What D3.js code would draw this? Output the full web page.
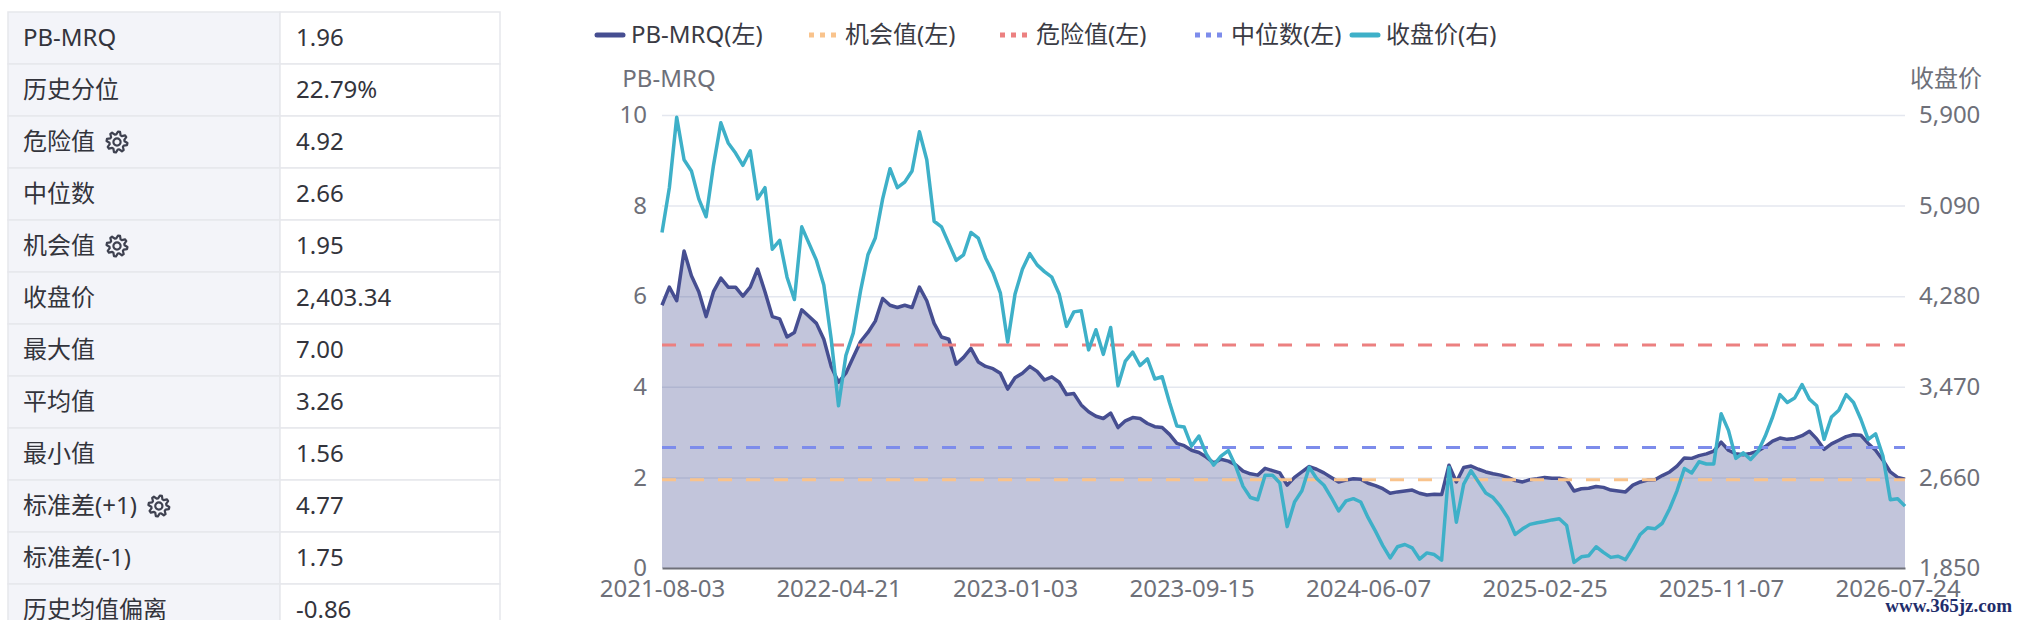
<!DOCTYPE html>
<html>
<head>
<meta charset="utf-8">
<script src="https://cdn.jsdelivr.net/npm/d3@7/dist/d3.min.js"></script>
<style>
  body { margin: 0; background: #fff; }
  svg text { font-family: "Noto Sans", "Noto Sans CJK SC", sans-serif; }
</style>
</head>
<body>
<svg id="chart" width="2020" height="620"></svg>
<script>
// stats table
var statNames = ["PB-MRQ", "历史分位", "危险值", "中位数", "机会值", "收盘价", "最大值", "平均值", "最小值", "标准差(+1)", "标准差(-1)", "历史均值偏离"];
var statValues = ["1.96", "22.79%", "4.92", "2.66", "1.95", "2,403.34", "7.00", "3.26", "1.56", "4.77", "1.75", "-0.86"];
var statHasGear = [false, false, true, false, true, false, false, false, false, true, false, false];

// x axis: one label every 24 points
var dateLabels = ["2021-08-03", "2022-04-21", "2023-01-03", "2023-09-15", "2024-06-07", "2025-02-25", "2025-11-07", "2026-07-24"];
var pointsPerLabel = 24;

var leftTicks = [0, 2, 4, 6, 8, 10];
var rightTicks = [1850, 2660, 3470, 4280, 5090, 5900];

var dangerValue = 4.92;
var medianValue = 2.66;
var chanceValue = 1.95;

var legendNames = ["PB-MRQ(左)", "机会值(左)", "危险值(左)", "中位数(左)", "收盘价(右)"];

// PB-MRQ (left axis)
var pbValues = [
  5.8, 6.2, 5.9, 7.0, 6.45, 6.1, 5.55, 6.1, 6.4, 6.2,
  6.2, 6.0, 6.2, 6.6, 6.1, 5.55, 5.5, 5.1, 5.2, 5.7,
  5.55, 5.4, 5.05, 4.45, 4.1, 4.3, 4.65, 5.0, 5.2, 5.45,
  5.95, 5.8, 5.75, 5.8, 5.75, 6.2, 5.9, 5.4, 5.1, 5.05,
  4.5, 4.65, 4.85, 4.55, 4.45, 4.4, 4.3, 3.95, 4.2, 4.3,
  4.45, 4.34, 4.15, 4.22, 4.1, 3.83, 3.85, 3.6, 3.45, 3.35,
  3.3, 3.42, 3.1, 3.25, 3.32, 3.3, 3.19, 3.12, 3.1, 2.95,
  2.75, 2.7, 2.6, 2.55, 2.45, 2.32, 2.4, 2.36, 2.28, 2.14,
  2.08, 2.05, 2.2, 2.15, 2.1, 1.83, 2.0, 2.12, 2.24, 2.18,
  2.1, 2.0, 1.9, 1.94, 1.97, 1.96, 1.87, 1.82, 1.75, 1.65,
  1.68, 1.7, 1.72, 1.65, 1.61, 1.63, 1.62, 2.27, 1.9, 2.22,
  2.25, 2.18, 2.12, 2.08, 2.05, 2.0, 1.93, 1.9, 1.95, 1.97,
  2.0, 1.98, 1.98, 1.95, 1.7, 1.75, 1.76, 1.8, 1.78, 1.72,
  1.7, 1.68, 1.83, 1.9, 1.94, 1.95, 2.04, 2.12, 2.25, 2.43,
  2.42, 2.48, 2.52, 2.58, 2.78, 2.6, 2.52, 2.5, 2.53, 2.58,
  2.68, 2.8, 2.87, 2.84, 2.86, 2.92, 3.02, 2.85, 2.62, 2.74,
  2.82, 2.9, 2.94, 2.93, 2.75, 2.6, 2.38, 2.12, 2.0, 1.96
];

// 收盘价 (right axis)
var closeValues = [
  4850, 5250, 5880, 5500, 5400, 5150, 4990, 5450, 5830, 5650,
  5560, 5450, 5580, 5150, 5250, 4700, 4780, 4450, 4250, 4900,
  4750, 4600, 4380, 3900, 3300, 3750, 3950, 4330, 4650, 4800,
  5150, 5420, 5250, 5300, 5400, 5750, 5500, 4950, 4900, 4750,
  4600, 4650, 4850, 4800, 4620, 4490, 4310, 3870, 4300, 4520,
  4660, 4560, 4500, 4450, 4300, 4010, 4140, 4150, 3800, 3980,
  3760, 4000, 3480, 3700, 3780, 3660, 3720, 3540, 3560, 3330,
  3120, 3110, 2940, 3030, 2870, 2770, 2850, 2900, 2760, 2580,
  2480, 2460, 2680, 2680, 2610, 2220, 2440, 2540, 2750, 2650,
  2590, 2480, 2360, 2450, 2470, 2440, 2300, 2180, 2050, 1940,
  2040, 2060, 2030, 1930, 1985, 1970, 1920, 2750, 2260, 2600,
  2720, 2620, 2520, 2480, 2400, 2300, 2150, 2200, 2240, 2255,
  2265, 2280, 2290, 2230, 1900, 1950, 1960, 2040, 1990, 1945,
  1955, 1925, 2030, 2150, 2210, 2200, 2250, 2380, 2540, 2740,
  2700, 2800, 2780, 2780, 3230, 3080, 2830, 2880, 2820, 2890,
  3030, 3200, 3400, 3330, 3370, 3490, 3360, 3300, 3000, 3200,
  3260, 3400, 3330, 3180, 3000, 3050, 2850, 2460, 2470, 2403.34
];

var colors = {
  pb: "#464e91",
  close: "#3eb0c8",
  danger: "#ec8080",
  median: "#7d8ceb",
  chance: "#f9c38c",
  axisText: "#6e7079",
  grid: "#e4e7ef"
};

var svg = d3.select("#chart");

// ---------- table ----------
var rowH = 52, tableTop = 12, tableLeft = 8, colSplit = 280, tableRight = 500;

function gearPath(cx, cy) {
  var p = d3.path();
  var n = 32, ro = 10.5, ri = 7.6;
  for (var k = 0; k <= n; k++) {
    var a = (k / n) * Math.PI * 2 + Math.PI / 32;
    var r = (k % 4 < 2) ? ro : ri;
    var px = cx + r * Math.cos(a), py = cy + r * Math.sin(a);
    if (k === 0) p.moveTo(px, py); else p.lineTo(px, py);
  }
  p.closePath();
  p.moveTo(cx + 3.6, cy);
  p.arc(cx, cy, 3.6, 0, Math.PI * 2);
  return p.toString();
}

var rows = svg.append("g").attr("class", "stats")
  .selectAll("g.row")
  .data(statNames)
  .enter().append("g")
  .attr("class", "row")
  .attr("transform", function (d, i) { return "translate(0," + (tableTop + i * rowH) + ")"; });

rows.append("rect")
  .attr("x", tableLeft).attr("y", 0)
  .attr("width", colSplit - tableLeft).attr("height", rowH)
  .attr("fill", "#f3f4f9").attr("stroke", "#e6e7ec").attr("stroke-width", 1.5);

rows.append("rect")
  .attr("x", colSplit).attr("y", 0)
  .attr("width", tableRight - colSplit).attr("height", rowH)
  .attr("fill", "#fff").attr("stroke", "#e6e7ec").attr("stroke-width", 1.5);

rows.append("text")
  .attr("class", "name")
  .attr("x", 23).attr("y", rowH / 2).attr("dy", "0.35em")
  .attr("font-size", 24).attr("fill", "#33343c")
  .text(function (d) { return d; });

rows.append("text")
  .attr("x", 296).attr("y", rowH / 2).attr("dy", "0.35em")
  .attr("font-size", 24).attr("fill", "#33343c")
  .text(function (d, i) { return statValues[i]; });

rows.each(function (d, i) {
  if (!statHasGear[i]) return;
  var row = d3.select(this);
  var w = row.select("text.name").node().getComputedTextLength();
  row.append("path")
    .attr("d", gearPath(23 + w + 22, rowH / 2))
    .attr("fill", "none").attr("stroke", "#3e4150")
    .attr("stroke-width", 2.2).attr("stroke-linejoin", "round");
});

// ---------- chart ----------
var plot = { left: 662, right: 1905, top: 115, bottom: 568 };

var x = d3.scaleLinear().domain([0, pbValues.length - 1]).range([plot.left, plot.right]);
var yL = d3.scaleLinear().domain([0, 10]).range([plot.bottom, plot.top]);
var yR = d3.scaleLinear().domain([1850, 5900]).range([plot.bottom, plot.top]);

// grid
var grid = svg.append("g")
  .attr("transform", "translate(" + plot.left + ",0)")
  .call(d3.axisLeft(yL).tickValues(leftTicks.slice(1)).tickSize(-(plot.right - plot.left)).tickFormat(""));
grid.select(".domain").remove();
grid.selectAll("line").attr("stroke", colors.grid).attr("stroke-width", 1.5);

// left axis labels
var axL = svg.append("g")
  .attr("transform", "translate(" + plot.left + ",0)")
  .call(d3.axisLeft(yL).tickValues(leftTicks).tickSize(0).tickPadding(15));
axL.select(".domain").remove();
axL.selectAll("text").attr("font-size", 24).attr("fill", colors.axisText)
  .style("font-family", '"Noto Sans", "Noto Sans CJK SC", sans-serif');

// right axis labels
var axR = svg.append("g")
  .attr("transform", "translate(" + plot.right + ",0)")
  .call(d3.axisRight(yR).tickValues(rightTicks).tickSize(0).tickPadding(14).tickFormat(d3.format(",")));
axR.select(".domain").remove();
axR.selectAll("text").attr("font-size", 24).attr("fill", colors.axisText)
  .style("font-family", '"Noto Sans", "Noto Sans CJK SC", sans-serif');

// axis names
svg.append("text").attr("x", 669).attr("y", 79).attr("dy", "0.35em")
  .attr("text-anchor", "middle").attr("font-size", 24).attr("fill", colors.axisText)
  .text("PB-MRQ");
svg.append("text").attr("x", 1982).attr("y", 79).attr("dy", "0.35em")
  .attr("text-anchor", "end").attr("font-size", 24).attr("fill", colors.axisText)
  .text("收盘价");

// PB area + line
var area = d3.area()
  .x(function (d, i) { return x(i); })
  .y0(yL(0))
  .y1(function (d) { return yL(d); });
svg.append("path").datum(pbValues)
  .attr("d", area).attr("fill", colors.pb).attr("fill-opacity", 0.33);

var pbLine = d3.line()
  .x(function (d, i) { return x(i); })
  .y(function (d) { return yL(d); });
svg.append("path").datum(pbValues)
  .attr("d", pbLine).attr("fill", "none")
  .attr("stroke", colors.pb).attr("stroke-width", 3.5).attr("stroke-linejoin", "round");

// reference lines
var refLines = [
  { v: chanceValue, c: colors.chance },
  { v: dangerValue, c: colors.danger },
  { v: medianValue, c: colors.median }
];
svg.append("g").selectAll("line").data(refLines).enter().append("line")
  .attr("x1", plot.left).attr("x2", plot.right)
  .attr("y1", function (d) { return yL(d.v); })
  .attr("y2", function (d) { return yL(d.v); })
  .attr("stroke", function (d) { return d.c; })
  .attr("stroke-width", 3).attr("stroke-dasharray", "14,14");

// close price line
var closeLine = d3.line()
  .x(function (d, i) { return x(i); })
  .y(function (d) { return yR(d); });
svg.append("path").datum(closeValues)
  .attr("d", closeLine).attr("fill", "none")
  .attr("stroke", colors.close).attr("stroke-width", 3.5).attr("stroke-linejoin", "round");

// x axis
var axB = svg.append("g")
  .attr("transform", "translate(0," + plot.bottom + ")")
  .call(d3.axisBottom(x)
    .tickValues(dateLabels.map(function (d, i) { return i * pointsPerLabel; }))
    .tickSize(0).tickPadding(12)
    .tickFormat(function (d) { return dateLabels[d / pointsPerLabel]; }));
axB.select(".domain").attr("stroke", colors.axisText).attr("stroke-width", 2);
axB.selectAll("text").attr("font-size", 24).attr("fill", colors.axisText)
  .style("font-family", '"Noto Sans", "Noto Sans CJK SC", sans-serif');

// legend (item start positions as in the original layout)
var legendColors = [colors.pb, colors.chance, colors.danger, colors.median, colors.close];
var legendDotted = [false, true, true, true, false];
var legendX = [595, 809, 1000, 1195, 1350];
legendNames.forEach(function (name, i) {
  var g = svg.append("g").attr("transform", "translate(" + legendX[i] + ",35)");
  if (legendDotted[i]) {
    g.append("line").attr("x1", 0).attr("x2", 29).attr("y1", 0).attr("y2", 0)
      .attr("stroke", legendColors[i]).attr("stroke-width", 5).attr("stroke-dasharray", "5,6");
  } else {
    g.append("line").attr("x1", 2).attr("x2", 28).attr("y1", 0).attr("y2", 0)
      .attr("stroke", legendColors[i]).attr("stroke-width", 5).attr("stroke-linecap", "round");
  }
  g.append("text").attr("x", 36).attr("y", 0).attr("dy", "0.35em")
    .attr("font-size", 24).attr("fill", "#3a3b44").text(name);
});

// watermark
svg.append("text").attr("x", 2012).attr("y", 612).attr("text-anchor", "end")
  .attr("font-size", 19).attr("font-weight", "bold").attr("fill", "#1f2d6b")
  .style("font-family", '"Liberation Serif", "DejaVu Serif", serif')
  .text("www.365jz.com");
</script>
</body>
</html>
